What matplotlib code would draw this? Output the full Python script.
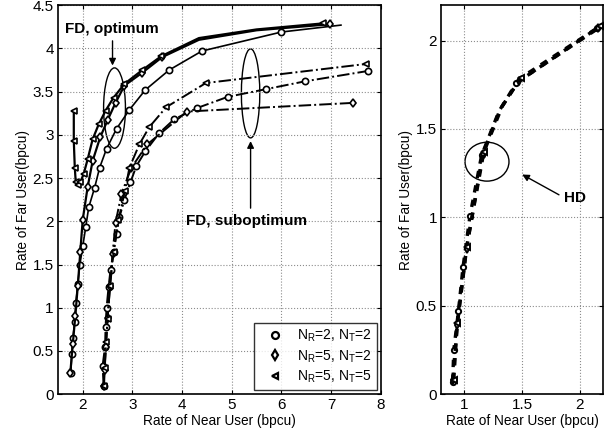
import numpy as np
import matplotlib
matplotlib.use("Agg")
import matplotlib.pyplot as plt
from matplotlib.patches import Ellipse

plt.rcParams["font.family"] = ["Liberation Sans", "DejaVu Sans"]
plt.rcParams["mathtext.fontset"] = "custom"
plt.rcParams["mathtext.rm"] = "Liberation Sans"

# ---- FD, optimum (solid) ----
opt_circ_x = [1.76, 1.78, 1.80, 1.84, 1.86, 1.90, 1.94, 2.00, 2.06, 2.12, 2.24, 2.34, 2.48, 2.68, 2.94, 3.26, 3.74, 4.40, 6.00, 7.20]
opt_circ_y = [0.25, 0.46, 0.65, 0.84, 1.06, 1.27, 1.49, 1.71, 1.93, 2.16, 2.39, 2.62, 2.84, 3.07, 3.29, 3.52, 3.75, 3.97, 4.19, 4.27]
opt_dia_x = [1.75, 1.80, 1.85, 1.90, 1.95, 2.00, 2.10, 2.20, 2.35, 2.50, 2.66, 2.84, 3.20, 3.60, 4.34, 5.50, 6.98]
opt_dia_y = [0.25, 0.58, 0.90, 1.25, 1.64, 2.02, 2.40, 2.70, 2.97, 3.17, 3.37, 3.57, 3.72, 3.90, 4.10, 4.21, 4.28]
opt_tri_x = [1.82, 1.82, 1.84, 1.86, 1.90, 1.95, 2.02, 2.10, 2.20, 2.32, 2.46, 2.62, 2.84, 3.20, 3.58, 4.34, 5.50, 6.84]
opt_tri_y = [3.28, 2.93, 2.62, 2.45, 2.42, 2.45, 2.55, 2.72, 2.95, 3.12, 3.28, 3.43, 3.59, 3.75, 3.91, 4.12, 4.22, 4.29]

# ---- FD, suboptimum (dash-dot) ----
sub_circ_x = [2.42, 2.40, 2.45, 2.46, 2.48, 2.52, 2.56, 2.62, 2.68, 2.74, 2.84, 2.96, 3.08, 3.26, 3.54, 3.84, 4.30, 4.92, 5.70, 6.48, 7.75]
sub_circ_y = [0.10, 0.33, 0.55, 0.78, 1.00, 1.24, 1.44, 1.64, 1.85, 2.05, 2.25, 2.45, 2.64, 2.81, 3.02, 3.18, 3.31, 3.44, 3.53, 3.62, 3.74]
sub_dia_x = [2.43, 2.44, 2.47, 2.50, 2.55, 2.60, 2.66, 2.78, 2.98, 3.30, 4.10, 7.44]
sub_dia_y = [0.10, 0.28, 0.55, 0.88, 1.25, 1.62, 1.98, 2.32, 2.62, 2.89, 3.27, 3.37]
sub_tri_x = [2.42, 2.44, 2.47, 2.50, 2.55, 2.62, 2.72, 2.85, 2.94, 3.14, 3.34, 3.68, 4.48, 7.70]
sub_tri_y = [0.10, 0.30, 0.60, 0.87, 1.25, 1.64, 2.02, 2.35, 2.62, 2.89, 3.09, 3.32, 3.60, 3.82]

# ---- HD (dashed) ----
hd_circ_x = [0.90, 0.91, 0.95, 0.99, 1.05, 1.15, 1.30, 1.45, 2.15]
hd_circ_y = [0.07, 0.25, 0.47, 0.72, 1.01, 1.35, 1.60, 1.76, 2.07]
hd_dia_x = [0.90, 0.94, 1.02, 1.16, 1.31, 1.47, 2.16]
hd_dia_y = [0.08, 0.39, 0.82, 1.36, 1.61, 1.77, 2.07]
hd_tri_x = [0.91, 0.94, 1.02, 1.17, 1.33, 1.49, 2.17]
hd_tri_y = [0.08, 0.40, 0.83, 1.37, 1.63, 1.79, 2.08]

labels = [r"N$_\mathrm{R}$=2, N$_\mathrm{T}$=2",
          r"N$_\mathrm{R}$=5, N$_\mathrm{T}$=2",
          r"N$_\mathrm{R}$=5, N$_\mathrm{T}$=5"]
markers = ["o", "d", "<"]

fig = plt.figure(figsize=(6.16, 4.36), dpi=100)
ax1 = fig.add_axes([0.094, 0.096, 0.524, 0.892])
ax2 = fig.add_axes([0.716, 0.096, 0.263, 0.892])

mk = dict(color="k", mfc="white", mec="k", ms=4.5, mew=1.2)

opt = [(opt_circ_x, opt_circ_y), (opt_dia_x, opt_dia_y), (opt_tri_x, opt_tri_y)]
for (x, y), m in zip(opt, markers):
    lw = 1.2 if m == "o" else 1.6
    if m == "o":
        every = list(range(len(x) - 1))  # line runs past the last marker
    else:
        # no markers on the flat upper stretch
        every = [i for i in range(len(x)) if i not in (len(x) - 3, len(x) - 2)]
    ax1.plot(x, y, "-", marker=m, lw=lw, markevery=every, **mk)

sub = [(sub_circ_x, sub_circ_y), (sub_dia_x, sub_dia_y), (sub_tri_x, sub_tri_y)]
for (x, y), m in zip(sub, markers):
    ax1.plot(x, y, "-.", marker=m, lw=1.4, **mk)

hd = [(hd_circ_x, hd_circ_y), (hd_dia_x, hd_dia_y), (hd_tri_x, hd_tri_y)]
for (x, y), m in zip(hd, markers):
    every = [i for i in range(len(x)) if i != len(x) - 3]
    ax2.plot(x, y, "--", marker=m, lw=2.4, dashes=(2.2, 2.2), markevery=every,
             color="k", mfc="white", mec="k", ms=3.8, mew=1.4)

# legend (markers only)
handles = [plt.Line2D([], [], ls="none", marker=m, color="k", mfc="white", mew=1.6, ms=5) for m in markers]
leg = ax1.legend(handles, labels, loc="lower right", fontsize=10, frameon=True,
                 fancybox=False, edgecolor="k", handlelength=2.2, borderaxespad=0.3,
                 labelspacing=0.3, borderpad=0.35, handletextpad=0.5)
leg.get_frame().set_linewidth(1.0)

# annotations, left
ax1.text(1.64, 4.23, "FD, optimum", fontsize=11, fontweight="bold", va="center", ha="left")
ax1.annotate("", xy=(2.6, 3.77), xytext=(2.6, 4.12),
             arrowprops=dict(arrowstyle="-|>", color="k", lw=1.0, mutation_scale=10))
ax1.add_patch(Ellipse((2.64, 3.31), 0.44, 0.93, fill=False, ec="k", lw=1.0))
ax1.add_patch(Ellipse((5.38, 3.48), 0.37, 1.03, fill=False, ec="k", lw=1.0))
ax1.annotate("", xy=(5.38, 2.96), xytext=(5.38, 2.12),
             arrowprops=dict(arrowstyle="-|>", color="k", lw=1.0, mutation_scale=10))
ax1.text(5.3, 2.0, "FD, suboptimum", fontsize=11, fontweight="bold", va="center", ha="center")

# annotations, right
ax2.add_patch(Ellipse((1.197, 1.315), 0.38, 0.22, fill=False, ec="k", lw=1.0))
ax2.annotate("", xy=(1.48, 1.25), xytext=(1.84, 1.12),
             arrowprops=dict(arrowstyle="-|>", color="k", lw=1.0, mutation_scale=10))
ax2.text(1.86, 1.11, "HD", fontsize=11, fontweight="bold", va="center", ha="left")

ax1.set_xlim(1.5, 8)
ax1.set_ylim(0, 4.5)
ax1.set_xticks(range(2, 9))
ax1.set_yticks(np.arange(0, 4.51, 0.5))
ax1.set_yticklabels(["0", "0.5", "1", "1.5", "2", "2.5", "3", "3.5", "4", "4.5"])

ax2.set_xlim(0.8, 2.2)
ax2.set_ylim(0, 2.2)
ax2.set_xticks([1, 1.5, 2])
ax2.set_xticklabels(["1", "1.5", "2"])
ax2.set_yticks([0, 0.5, 1, 1.5, 2])
ax2.set_yticklabels(["0", "0.5", "1", "1.5", "2"])

for ax in (ax1, ax2):
    ax.grid(True, ls=":", color="0.55", lw=0.8)
    ax.tick_params(direction="in", top=True, right=True, labelsize=11, length=3, pad=3)
    for s in ax.spines.values():
        s.set_linewidth(1.2)
    ax.set_xlabel("Rate of Near User (bpcu)", fontsize=9.8, labelpad=1)
    ax.set_ylabel("Rate of Far User(bpcu)", fontsize=9.8, labelpad=2)

fig.savefig("out.png", dpi=100)
